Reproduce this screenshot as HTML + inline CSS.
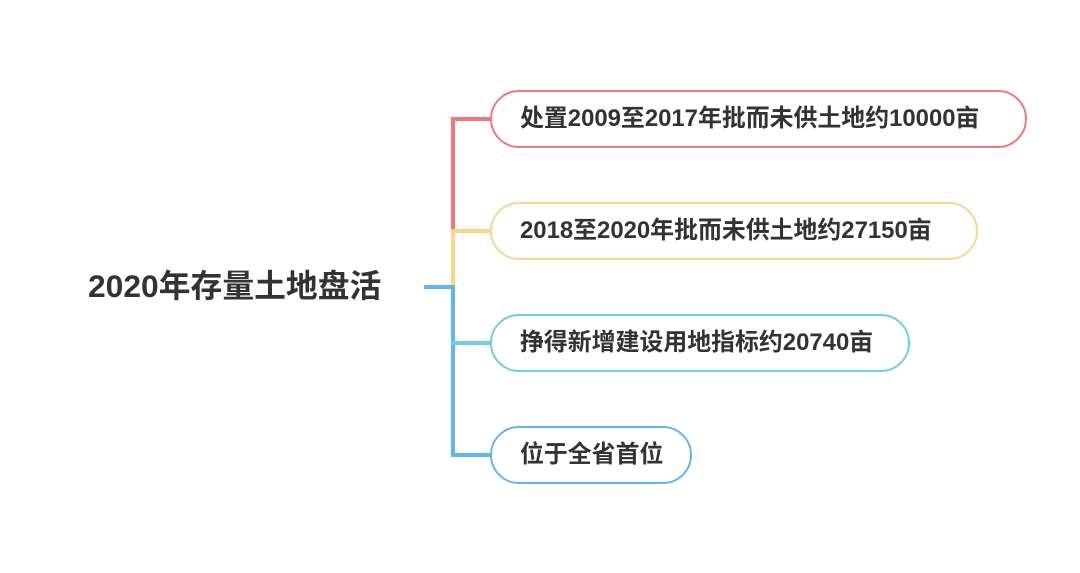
<!DOCTYPE html>
<html><head><meta charset="utf-8"><style>
body{margin:0;width:1080px;height:573px;background:#fff;position:relative;overflow:hidden;font-family:"Liberation Sans","Noto Sans CJK SC",sans-serif;color:#333;font-weight:bold}
.b{position:absolute;left:490px;height:54px;border:2.5px solid;border-radius:30px;box-sizing:content-box;font-size:23.9px;line-height:54px;padding-left:28px;white-space:nowrap}
.l{position:absolute;width:3.5px}
.h{position:absolute;height:3.5px}
</style></head><body>
<div style="position:absolute;left:88px;top:266px;font-size:31.8px;line-height:40px;white-space:nowrap">2020年存量土地盘活</div>
<div class="h" style="left:424px;top:285px;width:30px;background:#62b6ef"></div>
<div class="l" style="left:451px;top:117px;height:113px;background:#f0787a"></div>
<div class="l" style="left:451px;top:229px;height:58px;background:#f7d88a"></div>
<div class="l" style="left:451px;top:285px;height:171px;background:#62b6ef"></div>
<div class="h" style="left:451px;top:117px;width:40px;background:#f0787a"></div>
<div class="h" style="left:451px;top:229px;width:40px;background:#f7d88a"></div>
<div class="h" style="left:451px;top:341px;width:40px;background:#6dcfe0"></div>
<div class="h" style="left:451px;top:453px;width:40px;background:#62b6ef"></div>
<div class="b" style="top:90px;width:505px;border-color:#f0787a">处置2009至2017年批而未供土地约10000亩</div>
<div class="b" style="top:202px;width:456px;border-color:#f7d88a">2018至2020年批而未供土地约27150亩</div>
<div class="b" style="top:314px;width:388px;border-color:#6dcfe0">挣得新增建设用地指标约20740亩</div>
<div class="b" style="top:426px;width:170px;border-color:#62b6ef">位于全省首位</div>
</body></html>
